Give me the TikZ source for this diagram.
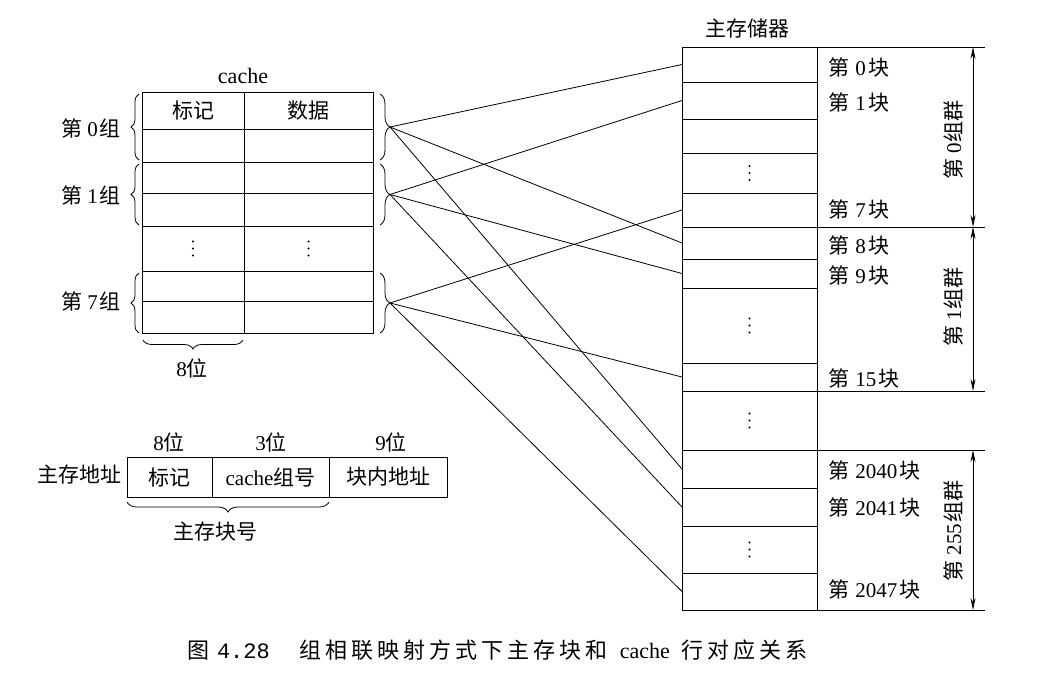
\documentclass[tikz,border=0pt]{standalone}
\usepackage{fontspec}
\setmainfont{Liberation Serif}
\newfontfamily\cjk{Noto Sans CJK SC}
\newfontfamily\monof{Liberation Mono}
\usetikzlibrary{decorations.pathreplacing,arrows.meta}
\newcommand\zh[1]{{\cjk #1}}
\newcommand\lbfont{\fontsize{21}{24}\selectfont}
\newcommand\blk[1]{\zh{第}\hspace{0.3em}#1\hspace{0.12em}\zh{块}}
\newcommand\grp[1]{\zh{第}\hspace{0.25em}#1\hspace{0.05em}\zh{组}}
\newcommand\grq[1]{\zh{第}\hspace{0.25em}#1\hspace{0.05em}\zh{组群}}
\newcommand\ck{\kern4pt}
\newcommand\vdts[1]{\foreach \dd in {-7,0,7} {\fill (#1) ++(0,\dd) circle (1.1pt);}}
\begin{document}
\begin{tikzpicture}[x=1pt,y=-1pt,
  gline/.style={line width=0.9pt},
  cell/.style={draw, line width=1pt, inner sep=0pt, outer sep=0pt, anchor=north west, font=\lbfont},
  txt/.style={inner sep=0pt, outer sep=0pt, font=\lbfont},
  conn/.style={line width=0.8pt},
  brc/.style={decorate, decoration={brace, amplitude=#1}, line width=0.8pt},
  brc/.default=9pt,
  dimarrow/.style={line width=0.8pt, {Stealth[length=12pt,width=5pt]}-{Stealth[length=12pt,width=5pt]}}
]
\useasboundingbox (0,0) rectangle (1051,678);

% ---------- cache ----------
\node[txt, font=\fontsize{22}{24}\selectfont] (cachettl) at (243,76) {cache};
\foreach \n/\y/\h in {0/92/37, 1/129/33, 2/162/31, 3/193/33, 4/226/45, 5/271/30, 6/301/32} {
  \node[cell, minimum width=102pt, minimum height=\h pt] (ct\n) at (142,\y) {};
  \node[cell, minimum width=129pt, minimum height=\h pt] (cd\n) at (244,\y) {};
}
\node[txt] (htag) at (ct0.center) {\zh{标记}};
\node[txt] (hdat) at (cd0.center) {\zh{数据}};
\vdts{ct4.center}
\vdts{cd4.center}

% left braces and labels
\draw[brc=8pt] (139,160) -- (139,94);
\draw[brc=8pt] (139,225) -- (139,164);
\draw[brc=8pt] (139,333) -- (139,273);
\node[txt, anchor=east] (lg0) at (120,128) {\grp{0}};
\node[txt, anchor=east] (lg1) at (120,195) {\grp{1}};
\node[txt, anchor=east] (lg7) at (120,301) {\grp{7}};

% right braces
\draw[brc=10pt] (380,94) -- (380,160);
\draw[brc=10pt] (380,164) -- (380,225);
\draw[brc=10pt] (380,273) -- (380,333);
\coordinate (g0) at (390,127);
\coordinate (g1) at (390,194.5);
\coordinate (g7) at (390,303);

% bottom brace
\draw[brc=9pt] (243,340) -- (143,340);
\node[txt] (bits8a) at (192,368) {8\zh{位}};

% ---------- main memory ----------
\node[txt] (mmttl) at (747,28) {\zh{主存储器}};
\foreach \n/\y/\h in {0/47/35, 1/82/37, 2/119/34, 3/153/40, 4/193/34, 5/227/32, 6/259/29, 7/288/75, 8/363/28, 9/391/59, 10/450/38, 11/488/38, 12/526/47, 13/573/37} {
  \node[cell, minimum width=135pt, minimum height=\h pt] (m\n) at (682,\y) {};
}
\vdts{m3.center}
\vdts{m7.center}
\vdts{m9.center}
\vdts{m12.center}

% group separator lines
\draw[gline] (m0.north east) -- ++(168,0);
\draw[gline] (m5.north east) -- ++(168,0);
\draw[gline] (m9.north east) -- ++(168,0);
\draw[gline] (m10.north east) -- ++(168,0);
\draw[gline] (m13.south east) -- ++(168,0);

% dimension arrows
\draw[dimarrow] (973,47) -- (973,227);
\draw[dimarrow] (973,227) -- (973,391);
\draw[dimarrow] (973,450) -- (973,610);

% group labels
\node[txt, rotate=90] (G0) at (953,140) {\grq{0}};
\node[txt, rotate=90] (G1) at (953,307) {\grq{1}};
\node[txt, rotate=90] (G255) at (953,531) {\grq{255}};

% block labels
\node[txt, anchor=west] (b0) at (828,67) {\blk{0}};
\node[txt, anchor=west] (b1) at (828,102) {\blk{1}};
\node[txt, anchor=west] (b7) at (828,209) {\blk{7}};
\node[txt, anchor=west] (b8) at (828,245) {\blk{8}};
\node[txt, anchor=west] (b9) at (828,275) {\blk{9}};
\node[txt, anchor=west] (b15) at (828,378) {\blk{15}};
\node[txt, anchor=west] (b2040) at (828,470) {\blk{2040}};
\node[txt, anchor=west] (b2041) at (828,507) {\blk{2041}};
\node[txt, anchor=west] (b2047) at (828,589) {\blk{2047}};

% connectors
\draw[conn] (g0) -- (m0.west);
\draw[conn] (g0) -- (m5.west);
\draw[conn] (g0) -- (m10.west);
\draw[conn] (g1) -- (m1.west);
\draw[conn] (g1) -- (m6.west);
\draw[conn] (g1) -- (m11.west);
\draw[conn] (g7) -- (m4.west);
\draw[conn] (g7) -- (m8.west);
\draw[conn] (g7) -- (m13.west);

% ---------- address format ----------
\node[txt, anchor=east] (addr) at (121,474) {\zh{主存地址}};
\node[cell, minimum width=85pt, minimum height=40pt] (a0) at (127,457) {\zh{标记}};
\node[cell, minimum width=117pt, minimum height=40pt] (a1) at (212,457) {cache\zh{组号}};
\node[cell, minimum width=118pt, minimum height=40pt] (a2) at (329,457) {\zh{块内地址}};
\node[txt] (ab0) at (169,442) {8\zh{位}};
\node[txt] (ab1) at (271,442) {3\zh{位}};
\node[txt] (ab2) at (391,442) {9\zh{位}};
\draw[brc=10pt] (329,502) -- (127,502);
\node[txt] (blkno) at (215,532) {\zh{主存块号}};

% ---------- caption ----------
\node[txt, anchor=west, font=\fontsize{22}{24}\selectfont] (cap) at (187,650)
  {\zh{图}\hspace{8pt}{\monof 4.28}\hspace{30pt}\zh{组\ck 相\ck 联\ck 映\ck 射\ck 方\ck 式\ck 下\ck 主\ck 存\ck 块\ck 和}\hspace{12pt}cache\hspace{12pt}\zh{行\ck 对\ck 应\ck 关\ck 系}};
\end{tikzpicture}
\end{document}
